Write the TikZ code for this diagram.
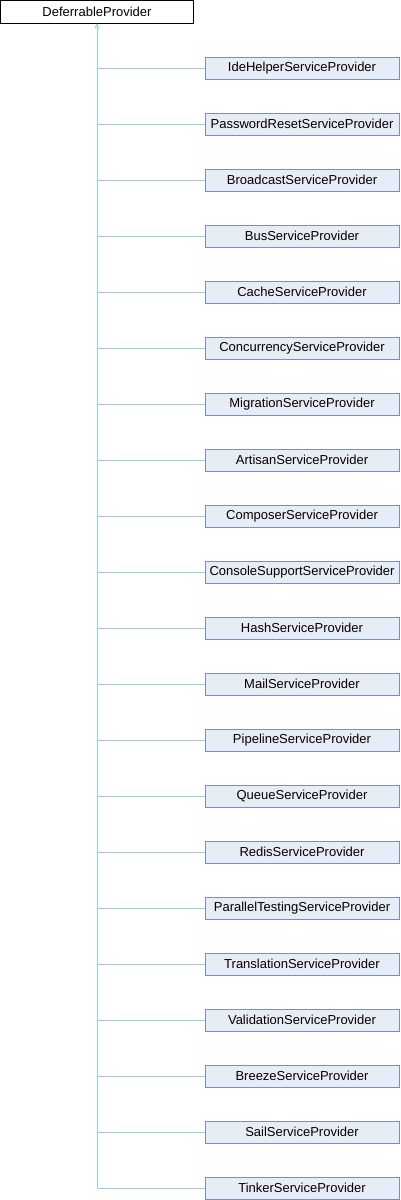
\documentclass[tikz,border=0pt]{standalone}
\usepackage{fontspec}
\setmainfont{Liberation Sans}
\usetikzlibrary{arrows.meta}

\definecolor{boxfill}{RGB}{232,236,245}
\definecolor{boxline}{RGB}{122,142,198}
\definecolor{edgeblue}{RGB}{150,203,232}

\tikzset{
  classbox/.style={draw=boxline, fill=boxfill, line width=0.9pt, minimum width=194pt,
    minimum height=22pt, inner sep=0pt, font=\fontsize{13}{15}\selectfont},
  rootbox/.style={classbox, draw=black, fill=white, minimum width=193pt, minimum height=22.5pt},
  inherit/.style={draw=edgeblue, line width=0.9pt}
}

\begin{document}
\begin{tikzpicture}[x=1pt,y=-1pt]
    \useasboundingbox (0,0) rectangle (400,1200);
    \node[rootbox] (deferrable) at (97,11.75) {DeferrableProvider};
    % derived providers
    \foreach \cls [count=\i from 0] in {IdeHelper,PasswordReset,Broadcast,Bus,Cache,Concurrency,Migration,Artisan,Composer,ConsoleSupport,Hash,Mail,Pipeline,Queue,Redis,ParallelTesting,Translation,Validation,Breeze,Sail,Tinker} {
        \node[classbox] (\cls) at (302,68+56*\i) {\cls ServiceProvider};
        \coordinate (j\i) at (97,68+56*\i);
        \draw[inherit] (j\i) -- (\cls.west);
    }
    \draw[inherit, -{Triangle[open, length=5pt, width=5pt]}] (j20) -- (deferrable.south);
\end{tikzpicture}
\end{document}
